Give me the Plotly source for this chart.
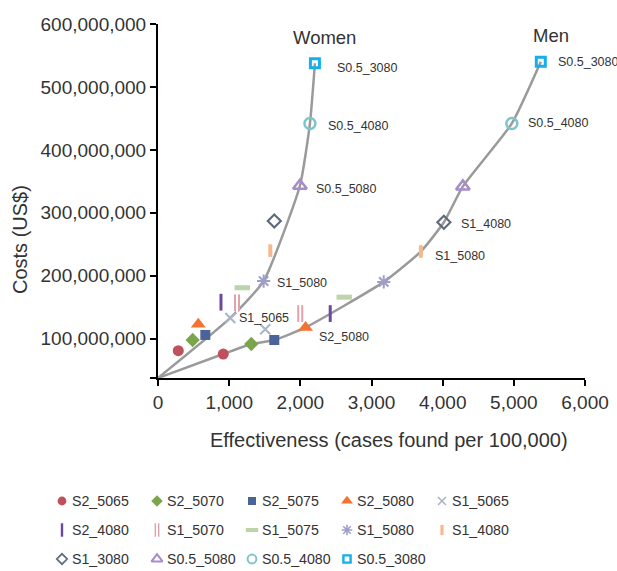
import plotly.graph_objects as go

# ---------------- data ----------------
strategies = ["S2_5065", "S2_5070", "S2_5075", "S2_5080", "S1_5065",
              "S2_4080", "S1_5070", "S1_5075", "S1_5080", "S1_4080",
              "S1_3080", "S0.5_5080", "S0.5_4080", "S0.5_3080"]

women_effect = [285, 487, 665, 566, 1016, 885, 1110, 1184, 1484, 1578,
                1634, 1994, 2135, 2205]
women_cost = [81e6, 98e6, 106e6, 123e6, 133e6, 158e6, 157e6, 181e6, 191.6e6,
              240e6, 287e6, 343e6, 442e6, 537.6e6]

men_effect = [917, 1311, 1634, 2074, 1507, 2420, 1999, 2617, 3172, 3694,
              4017, 4284, 4972, 5379]
men_cost = [75.7e6, 91.6e6, 98e6, 118e6, 115e6, 140e6, 140e6, 166e6, 190.3e6,
            238.6e6, 285e6, 342e6, 442e6, 540e6]

# baseline (no screening) start of both frontiers
baseline_effect = 0
baseline_cost = 37.6e6

women_frontier = ["S1_5065", "S1_5080", "S0.5_5080", "S0.5_4080", "S0.5_3080"]
men_frontier = ["S2_5065", "S2_5070", "S2_5075", "S2_5080", "S1_5080",
                "S1_4080", "S1_3080", "S0.5_5080", "S0.5_4080", "S0.5_3080"]

x_ticks = [0, 1000, 2000, 3000, 4000, 5000, 6000]
y_ticks = [100e6, 200e6, 300e6, 400e6, 500e6, 600e6]

# point labels: (group, strategy the label sits next to, text)
point_labels = [
    ("women", "S0.5_3080", "S0.5_3080"),
    ("women", "S0.5_4080", "S0.5_4080"),
    ("women", "S0.5_5080", "S0.5_5080"),
    ("women", "S1_5080", "S1_5080"),
    ("women", "S1_5065", "S1_5065"),
    ("men", "S2_5080", "S2_5080"),
    ("men", "S0.5_3080", "S0.5_3080"),
    ("men", "S0.5_4080", "S0.5_4080"),
    ("men", "S1_3080", "S1_4080"),
    ("men", "S1_4080", "S1_5080"),
]

# ---------------- styles ----------------
styles = {
    "S2_5065": dict(symbol="circle", size=11, color="#c0505c"),
    "S2_5070": dict(symbol="diamond", size=11, color="#7aa54c"),
    "S2_5075": dict(symbol="square", size=10, color="#4a6399"),
    "S2_5080": dict(symbol="triangle-up", size=13, color="#f47330"),
    "S1_5065": dict(symbol="x-thin", size=10, color="#a9b4c6", lw=2),
    "S2_4080": dict(symbol="line-ns", size=12, color="#6a4a9e", lw=3),
    "S1_5070": dict(symbol="line-ns", size=12, color="#e2a2aa", lw=6, split=2),
    "S1_5075": dict(symbol="line-ew", size=11, color="#bcd4aa", lw=5),
    "S1_5080": dict(symbol="asterisk", size=11, color="#9e9ec8", lw=2),
    "S1_4080": dict(symbol="line-ns", size=9, color="#f8b88c", lw=4),
    "S1_3080": dict(symbol="diamond-open", size=10, color="#5f6b7a", lw=2.2),
    "S0.5_5080": dict(symbol="triangle-up-open", size=12, color="#a68ccb", lw=2.5),
    "S0.5_4080": dict(symbol="circle-open", size=11, color="#7cc6ca", lw=2.5),
    "S0.5_3080": dict(symbol="square-open", size=9, color="#14b0ec", lw=3),
}

FONT = "Liberation Sans, Arial, sans-serif"
TXT = "#333333"
LINE_GRAY = "#9a9a9a"
W, H, TOP = 617, 571, 24
PAPER_H = H - TOP

fig = go.Figure()
idx = {s: i for i, s in enumerate(strategies)}

# frontier curves
for eff, cost, frontier in [(women_effect, women_cost, women_frontier),
                            (men_effect, men_cost, men_frontier)]:
    fx = [baseline_effect] + [eff[idx[s]] for s in frontier]
    fy = [baseline_cost] + [cost[idx[s]] for s in frontier]
    fig.add_trace(go.Scatter(x=fx, y=fy, mode="lines",
                             line=dict(color=LINE_GRAY, width=2.5, shape="spline", smoothing=0.5),
                             showlegend=False, hoverinfo="skip"))


def add_marker(xs, ys, s, scale, xaxis, yaxis):
    st = styles[s]
    lw = st.get("lw", 0)
    fig.add_trace(go.Scatter(
        x=xs, y=ys, mode="markers", name=s, showlegend=False, cliponaxis=False,
        xaxis=xaxis, yaxis=yaxis,
        marker=dict(symbol=st["symbol"], size=st["size"] * scale, color=st["color"],
                    line=dict(color=st["color"], width=lw * (scale if scale < 1 else 1)))))
    if "split" in st:
        # white slit turns the thick bar into the "||" glyph
        fig.add_trace(go.Scatter(
            x=xs, y=ys, mode="markers", showlegend=False, hoverinfo="skip", cliponaxis=False,
            xaxis=xaxis, yaxis=yaxis,
            marker=dict(symbol="line-ns", size=st["size"] * scale + 2, color="white",
                        line=dict(color="white", width=st["split"]))))


# strategy markers in the chart
for i, s in enumerate(strategies):
    add_marker([women_effect[i], men_effect[i]], [women_cost[i], men_cost[i]], s, 1.0, "x", "y")

# legend grid (5 per row) drawn on its own hidden axes
LEG_COLS = 5
for i, s in enumerate(strategies):
    col, row = i % LEG_COLS, -(i // LEG_COLS)
    add_marker([col], [row], s, 0.8, "x4", "y4")
    fig.add_annotation(x=col, y=row, xref="x4", yref="y4", text=s, showarrow=False,
                       xanchor="left", yanchor="middle", xshift=8,
                       font=dict(family=FONT, size=14.2, color=TXT))

# point labels
groups = {"women": (women_effect, women_cost), "men": (men_effect, men_cost)}
label_shift = {
    ("women", "S0.5_3080"): (20, -5), ("women", "S0.5_4080"): (16, -3),
    ("women", "S0.5_5080"): (14, -3), ("women", "S1_5080"): (11, -2),
    ("women", "S1_5065"): (7, 0), ("men", "S2_5080"): (11, -10),
    ("men", "S0.5_3080"): (15, 0), ("men", "S0.5_4080"): (14, 0),
    ("men", "S1_3080"): (15, -2), ("men", "S1_4080"): (12, -5),
}
for g, s, text in point_labels:
    ex, cy = groups[g]
    dx, dy = label_shift[(g, s)]
    fig.add_annotation(x=ex[idx[s]], y=cy[idx[s]], text=text, showarrow=False,
                       xanchor="left", yanchor="middle", xshift=dx, yshift=dy,
                       font=dict(family=FONT, size=12.5, color=TXT))

# group titles
for g, title in [("women", "Women"), ("men", "Men")]:
    ex, cy = groups[g]
    top = idx["S0.5_3080"]
    fig.add_annotation(x=ex[top], y=cy[top], text=title, showarrow=False,
                       xanchor="center", yanchor="middle", xshift=10, yshift=26,
                       font=dict(family=FONT, size=18.5, color=TXT))

# axis titles
fig.add_annotation(xref="paper", yref="paper", x=389 / W, y=(H - 440) / PAPER_H,
                   text="Effectiveness (cases found per 100,000)",
                   showarrow=False, xanchor="center", yanchor="middle",
                   font=dict(family=FONT, size=20, color=TXT))
fig.add_annotation(xref="paper", yref="paper", x=20 / W, y=(H - 240) / PAPER_H,
                   text="Costs (US$)", textangle=-90, showarrow=False,
                   xanchor="center", yanchor="middle",
                   font=dict(family=FONT, size=20, color=TXT))

# geometry of plot area and legend grid (pixels)
plot_left, plot_right, plot_bottom = 158, 585, 378
leg_x0, leg_dx = 62, 95          # first column centre, column pitch
leg_y0, leg_dy = 501, 29         # first row centre, row pitch
leg_dom = 0.2
leg_h = leg_dom * PAPER_H
leg_span_y = leg_h / leg_dy
leg_ymin = -(H - leg_y0) / leg_dy

axis_common = dict(showgrid=False, zeroline=False, showline=True, linecolor="black",
                   linewidth=2, ticks="outside", ticklen=6, tickwidth=2, tickcolor="black",
                   automargin=False, tickfont=dict(family=FONT, size=19, color=TXT))
hidden = dict(visible=False, showgrid=False, zeroline=False, fixedrange=True, automargin=False)

fig.update_layout(
    width=W, height=H,
    margin=dict(l=0, r=0, t=TOP, b=0, autoexpand=False),
    paper_bgcolor="white", plot_bgcolor="white",
    font=dict(family=FONT, color=TXT),
    showlegend=False,
    xaxis=dict(domain=[plot_left / W, plot_right / W], range=[0, 6000], tickvals=x_ticks,
               tickformat=",", anchor="y", **axis_common),
    yaxis=dict(domain=[(H - plot_bottom) / PAPER_H, 1], range=[baseline_cost, 600e6],
               tickvals=[baseline_cost] + y_ticks,
               ticktext=[""] + [f"{v:,.0f}" for v in y_ticks], anchor="x", **axis_common),
    xaxis4=dict(domain=[0, 1], range=[-leg_x0 / leg_dx, (W - leg_x0) / leg_dx],
                anchor="y4", **hidden),
    yaxis4=dict(domain=[0, leg_dom], range=[leg_ymin, leg_ymin + leg_span_y],
                anchor="x4", **hidden),
)

fig.write_html("out.html", post_script="document.body.style.margin='0';",
               config={"displayModeBar": False})
